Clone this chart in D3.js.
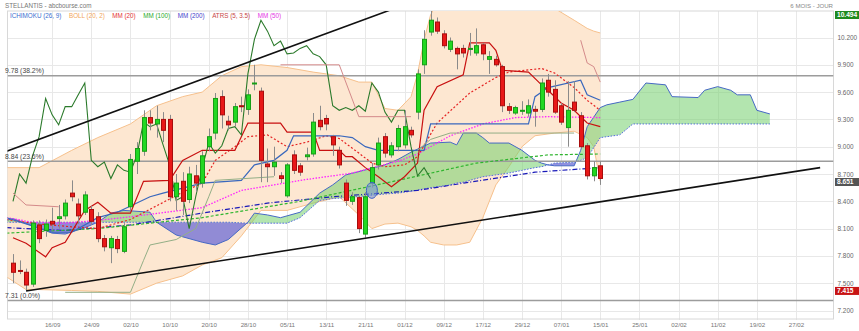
<!DOCTYPE html>
<html>
<head>
<meta charset="utf-8">
<script src="https://cdn.jsdelivr.net/npm/d3@7/dist/d3.min.js"></script>
<style>
    body { margin: 0; background: #fff; }
    svg { display: block; font-family: "Liberation Sans", Arial, sans-serif; }
</style>
</head>
<body>
<svg id="chart" width="859" height="331"></svg>
<script>
(function () {

    // daily candles, index 0 = first visible session
    var openS  = [7.72,7.64,7.62,7.49,8.14,8.08,8.18,8.21,8.24,8.49,8.37,8.28,8.31,8.23,7.99,7.89,7.98,7.85,8.34,8.84,
                  8.95,9.32,9.25,9.30,9.30,8.45,8.62,8.42,8.68,8.60,9.00,9.15,9.55,9.28,9.27,9.45,9.41,9.69,9.61,8.81,
                  8.78,8.68,8.46,8.91,8.79,8.89,8.92,9.29,9.31,9.11,8.96,8.60,8.40,8.44,8.04,8.60,8.80,9.11,8.91,9.00,
                  9.02,9.18,9.38,9.90,10.26,10.37,10.24,10.07,10.08,10.08,10.07,10.03,10.12,9.96,9.96,9.88,9.44,9.37,9.40,9.37,
                  9.41,9.41,9.73,9.63,9.45,9.21,9.49,9.34,9.01,8.68,8.79];
    var highS  = [7.82,7.75,7.66,8.19,8.19,8.20,8.33,8.36,8.42,8.63,8.43,8.51,8.35,8.28,8.03,8.02,8.02,8.16,8.92,9.05,
                  9.40,9.40,9.45,9.38,9.35,8.70,8.72,8.78,8.80,8.95,9.20,9.59,9.62,9.34,9.48,9.55,9.63,9.90,9.65,8.98,
                  9.00,8.72,8.82,8.96,8.82,8.99,9.37,9.45,9.35,9.13,9.00,8.64,8.50,8.46,8.50,8.82,9.10,9.15,9.05,9.24,
                  9.40,9.22,9.85,10.28,10.494,10.42,10.28,10.20,10.10,10.12,10.25,10.30,10.14,10.05,10.00,9.90,9.48,9.45,9.50,9.52,
                  9.45,9.75,9.80,9.73,9.48,9.72,9.72,9.38,9.04,8.84,8.84];
    var lowS   = [7.50,7.60,7.415,7.46,7.94,8.01,8.08,8.10,8.20,8.40,8.15,8.25,8.14,7.95,7.85,7.72,7.83,7.83,8.30,8.70,
                  8.90,9.18,9.10,9.05,8.40,8.30,8.25,8.38,8.50,8.55,8.95,9.08,9.20,9.18,9.22,9.38,9.35,9.62,8.61,8.61,
                  8.68,8.60,8.44,8.70,8.68,8.85,8.89,9.18,9.18,8.90,8.76,8.35,8.36,8.05,8.00,8.55,8.75,8.88,8.88,8.95,
                  8.98,9.10,9.30,9.80,10.22,10.24,10.08,10.04,9.85,9.98,10.00,10.00,9.95,9.80,9.88,9.38,9.36,9.35,9.35,9.33,
                  9.22,9.38,9.55,9.36,9.24,9.00,9.38,8.98,8.64,8.62,8.58];
    var closeS = [7.62,7.63,7.48,8.16,7.99,8.15,8.15,8.23,8.38,8.45,8.24,8.47,8.18,7.99,7.90,7.99,7.88,8.12,8.86,8.98,
                  9.32,9.26,9.30,9.18,8.45,8.60,8.40,8.70,8.60,8.90,9.11,9.53,9.35,9.24,9.44,9.44,9.57,9.70,8.85,8.78,
                  8.83,8.65,8.80,8.74,8.72,8.91,9.27,9.22,9.25,9.02,8.80,8.41,8.45,8.10,8.45,8.77,9.04,8.93,9.01,9.20,
                  9.22,9.13,9.80,10.18,10.39,10.27,10.11,10.16,10.02,10.03,10.08,10.11,10.02,9.99,9.90,9.45,9.40,9.43,9.40,9.45,
                  9.39,9.70,9.60,9.38,9.27,9.40,9.40,9.00,8.68,8.77,8.651];

    var tickIdx    = [6,12,18,24,30,36,42,48,54,60,66,72,78,84,90,96,102,108,114,120];
    var tickLabels = ['16/09','24/09','02/10','10/10','20/10','28/10','05/11','13/11','21/11','01/12',
                      '09/12','17/12','29/12','07/01','15/01','25/01','02/02','11/02','19/02','27/02'];
    var yTicks = [7.2,7.5,7.8,8.1,8.4,8.7,9.0,9.3,9.6,9.9,10.2];

    var fibLevels = [9.78, 8.84, 7.31];
    var fibLabels = ['9.78 (38.2%)', '8.84 (23.6%)', '7.31 (0.0%)'];

    // bollinger (20, 2)
    var bollIdx = [-1,2,4,9,13,18,22,26,29,32,35,38,42,46,50,53,55,57,59,61,62,63,64,66,68,70,72,74,76,78,80,83,86,88,89,90];
    var bollUp  = [8.77,8.77,8.77,8.96,9.10,9.25,9.45,9.55,9.60,9.78,9.88,9.90,9.87,9.82,9.78,9.71,9.71,9.42,9.40,9.55,
                   9.80,10.17,10.45,10.70,10.80,10.85,10.85,10.85,10.85,10.80,10.75,10.52,10.39,10.30,10.27,10.25];
    var bollLo  = [7.57,7.43,7.43,7.42,7.41,7.38,7.50,7.58,7.70,7.78,8.02,8.30,8.30,8.38,8.45,8.25,8.10,8.15,8.16,8.12,
                   8.08,8.02,7.95,7.92,7.92,7.95,8.22,8.58,8.78,9.00,9.12,9.15,9.17,9.10,9.00,8.62];

    // moving averages [index, value]
    var mm20 = [[-1,8.20],[4,8.15],[9,8.12],[13,8.10],[18,8.20],[22,8.35],[26,8.50],[29,8.60],[31,8.85],[34,9.00],
                [36,9.11],[39,9.13],[42,9.00],[45,9.05],[48,9.12],[50,9.09],[53,8.93],[55,8.82],[57,8.78],[60,8.80],
                [62,8.89],[65,9.26],[70,9.59],[74,9.76],[76,9.82],[81,9.86],[83,9.81],[86,9.65],[88,9.51],[90,9.40]];
    var mm50 = [[-1,8.22],[3,8.17],[8,8.16],[13,8.19],[18,8.23],[29,8.33],[35,8.52],[44,8.63],[52,8.71],[59,8.84],
                [62,8.92],[64,9.00],[67,9.12],[72,9.25],[77,9.32],[82,9.33],[90,9.32]];
    var mm100 = [[-1,8.05],[13,8.10],[29,8.22],[44,8.40],[59,8.63],[71,8.82],[82,8.91],[90,8.92]];
    var mm200 = [[-1,8.11],[8,8.08],[18,8.14],[29,8.27],[39,8.38],[49,8.45],[62,8.52],[70,8.61],[80,8.72],[90,8.77]];

    // ichimoku (26, 9)
    var tenkan = [[0,8.00],[2,7.94],[5,7.79],[6,7.89],[8,7.95],[11,8.30],[13,8.39],[15,8.27],[18,8.27],[20,8.62],
                  [24,8.63],[26,8.85],[29,8.96],[34,8.96],[36,9.26],[41,9.26],[42,9.16],[46,9.16],[47,8.96],[50,8.96],
                  [51,8.89],[52,8.89],[54,8.77],[56,8.67],[58,8.56],[60,8.67],[62,8.82],[63,9.40],[65,9.66],[69,9.79],
                  [70,10.14],[73,10.14],[74,10.06],[75,9.84],[79,9.82],[81,9.68],[82,9.62],[84,9.48],[86,9.40],[88,9.26],[90,9.22]];
    var kijun = [[-1,8.22],[6,8.06],[9,8.06],[13,8.22],[16,8.28],[21,8.45],[23,8.49],[29,8.60],[35,8.63],[37,8.80],
                 [40,8.85],[42,8.96],[43,9.12],[50,9.12],[52,9.10],[54,9.00],[56,8.96],[63,8.96],[64,9.25],[79,9.25],
                 [80,9.55],[82,9.65],[87,9.73],[88,9.57],[90,9.51]];
    var cloudIdx = [-1,0,3,6,8,11,13,15,17,21,22,25,29,31,33,36,37,39,41,42,44,47,49,51,57,59,61,64,67,68,69,71,72,73,
                    76,78,80,81,82,83,86,87,88,90,91,93,95,97,100,101,105,106,108,110,111,113,114,116];
    var spanA = [8.19,8.21,8.13,8.05,8.04,8.11,8.17,8.27,8.30,8.28,8.17,8.03,7.95,7.92,7.98,8.17,8.27,8.25,8.22,8.24,
                 8.28,8.49,8.58,8.69,8.80,8.86,8.94,9.04,9.05,9.02,9.15,9.15,9.10,9.04,9.04,8.96,8.85,8.82,8.80,8.79,
                 8.79,8.96,9.22,9.43,9.46,9.49,9.52,9.70,9.68,9.55,9.54,9.62,9.66,9.62,9.57,9.57,9.40,9.36];
    var spanB = [8.17,8.17,8.17,8.17,8.17,8.17,8.17,8.17,8.17,8.17,8.17,8.17,8.17,8.17,8.17,8.16,8.16,8.16,8.16,8.16,
                 8.22,8.41,8.43,8.44,8.48,8.49,8.51,8.55,8.58,8.60,8.61,8.65,8.67,8.68,8.71,8.74,8.77,8.78,8.80,8.82,
                 8.83,8.85,8.88,9.10,9.11,9.13,9.25,9.25,9.25,9.25,9.25,9.25,9.25,9.25,9.25,9.25,9.25,9.25];

    // ATR stop (5, 3.5): segments above price and below price
    var atrsAbove = [[[0,8.49],[2,8.36],[7,8.34]],
                     [[41,9.90],[50,9.90],[53,9.33],[61,9.33]],
                     [[87,10.17],[88,9.92],[89,9.88],[90,9.71]]];
    var atrsBelow = [[[8,7.40],[18,7.40],[20,7.75],[21,7.92],[25,7.98],[28,8.10],[30,8.45],[31,8.63],[40,8.67]],
                     [[62,8.96],[64,9.08],[67,9.15],[86,9.15]]];

    var trendUp = [[-1,8.95],[60,10.56]];
    var trendLo = [[2,7.415],[123.7,8.77]];
    var signalPt = [55, 8.52];
    var priceTags = [10.494, 8.651, 7.415];

    var legendNames  = ['ICHIMOKU (26, 9)','BOLL (20, 2)','MM (20)','MM (100)','MM (200)','ATRS (5, 3.5)','MM (50)'];
    var legendColors = ['#3b6fd0','#f2a55a','#e53333','#2aaa2a','#4444cc','#c84848','#e433e4'];
    var tagColors = ['#1f8a1f','#555555','#c81414'];

    var L = 7.5, R = 833.5, T = 11, B = 319;
    var svg = d3.select('#chart');
    var defs = svg.append('defs');

    var x = d3.scaleLinear().domain([0, 120]).range([13, 796]);
    var y = d3.scaleLinear().domain([7.2, 10.2]).range([310.5, 37.5]);

    var line = d3.line()
        .x(function (d) { return x(d[0]); })
        .y(function (d) { return y(d[1]); });

    svg.append('rect').attr('width', 859).attr('height', 331).attr('fill', '#fff');

    defs.append('clipPath').attr('id', 'plotClip')
        .append('rect').attr('x', L).attr('y', T).attr('width', R - L).attr('height', B - T);

    // grid
    var grid = svg.append('g').attr('stroke', '#e8e8e8').attr('stroke-width', 1);
    grid.selectAll('line.h').data(yTicks).join('line').attr('class', 'h')
        .attr('x1', L).attr('x2', R)
        .attr('y1', function (d) { return Math.round(y(d)) + 0.5; })
        .attr('y2', function (d) { return Math.round(y(d)) + 0.5; });
    grid.selectAll('line.v').data(tickIdx).join('line').attr('class', 'v')
        .attr('y1', T).attr('y2', B + 1)
        .attr('x1', function (d) { return Math.round(x(d)) + 0.5; })
        .attr('x2', function (d) { return Math.round(x(d)) + 0.5; });
    svg.append('rect').attr('x', L).attr('y', T).attr('width', R - L).attr('height', B - T)
        .attr('fill', 'none').attr('stroke', '#d8d8d8');

    var plot = svg.append('g').attr('clip-path', 'url(#plotClip)');

    function drawLine(data, color, width, dash) {
        var p = plot.append('path').attr('d', line(data))
            .attr('fill', 'none').attr('stroke', color).attr('stroke-width', width);
        if (dash) {
            p.attr('stroke-dasharray', dash);
        }
        return p;
    }

    // bollinger band
    var bollRows = bollIdx.map(function (d, k) { return { i: d, up: bollUp[k], lo: bollLo[k] }; });
    plot.append('path')
        .attr('d', d3.area()
            .x(function (d) { return x(d.i); })
            .y0(function (d) { return y(d.lo); })
            .y1(function (d) { return y(d.up); })(bollRows))
        .attr('fill', '#fde7d1');
    drawLine(bollRows.map(function (d) { return [d.i, d.up]; }), '#f6c08c', 1);
    drawLine(bollRows.map(function (d) { return [d.i, d.lo]; }), '#f6c08c', 1);

    // ichimoku cloud, green where span A is above span B, purple below
    var cloud = cloudIdx.map(function (d, k) { return { i: d, a: spanA[k], b: spanB[k] }; });
    defs.append('clipPath').attr('id', 'cloudAbove').append('path')
        .attr('d', d3.area().x(function (d) { return x(d.i); }).y0(0)
            .y1(function (d) { return y(d.b); })(cloud));
    defs.append('clipPath').attr('id', 'cloudBelow').append('path')
        .attr('d', d3.area().x(function (d) { return x(d.i); })
            .y0(function (d) { return y(d.b); }).y1(331)(cloud));
    var between = d3.area()
        .x(function (d) { return x(d.i); })
        .y0(function (d) { return y(d.b); })
        .y1(function (d) { return y(d.a); });
    plot.append('g').attr('clip-path', 'url(#cloudAbove)').append('path')
        .attr('d', between(cloud)).attr('fill', '#74d06e').attr('fill-opacity', 0.55);
    plot.append('g').attr('clip-path', 'url(#cloudBelow)').append('path')
        .attr('d', between(cloud)).attr('fill', '#6c6cd6').attr('fill-opacity', 0.75);
    drawLine(cloud.map(function (d) { return [d.i, d.a]; }), '#4668c4', 1);
    drawLine(cloud.map(function (d) { return [d.i, d.b]; }), '#5272d6', 1, '1.5,1.5');

    // fibonacci levels
    plot.selectAll('line.fib').data(fibLevels).join('line').attr('class', 'fib')
        .attr('x1', L).attr('x2', R)
        .attr('y1', function (d) { return y(d); }).attr('y2', function (d) { return y(d); })
        .attr('stroke', '#9c9c9c').attr('stroke-width', 1.5);

    // moving averages
    drawLine(mm200, '#1a1ab8', 1.2, '5,2,1,2');
    drawLine(mm100, '#2fb52f', 1.2, '3,2');
    drawLine(mm50, '#ff22ff', 1.3, '1.5,1.5');
    drawLine(mm20, '#e52222', 1.2, '2,2');

    // ichimoku lines
    drawLine(kijun, '#3a68bd', 1.2);
    drawLine(tenkan, '#c81010', 1.2);
    var chikou = closeS.slice(26).map(function (c, k) { return [k, c]; });
    drawLine(chikou, '#2b7a2b', 1.1);

    // ATR stop
    atrsAbove.forEach(function (seg) { drawLine(seg, '#d48a8a', 1); });
    atrsBelow.forEach(function (seg) { drawLine(seg, '#93ae86', 1); });

    // candles
    var bars = d3.range(closeS.length);
    var candles = plot.append('g');
    candles.selectAll('line').data(bars).join('line')
        .attr('x1', function (i) { return Math.round(x(i)) + 0.5; })
        .attr('x2', function (i) { return Math.round(x(i)) + 0.5; })
        .attr('y1', function (i) { return y(highS[i]); })
        .attr('y2', function (i) { return y(lowS[i]); })
        .attr('stroke', '#8a8a8a').attr('stroke-width', 1);
    candles.selectAll('rect').data(bars).join('rect')
        .attr('x', function (i) { return Math.round(x(i)) - 1.5; })
        .attr('width', 4)
        .attr('y', function (i) { return y(Math.max(openS[i], closeS[i])); })
        .attr('height', function (i) { return Math.max(1, Math.abs(y(openS[i]) - y(closeS[i]))); })
        .attr('fill', function (i) { return closeS[i] >= openS[i] ? '#22d822' : '#e81818'; })
        .attr('stroke', function (i) { return closeS[i] >= openS[i] ? '#169d16' : '#a80c0c'; })
        .attr('stroke-width', 1);

    // signal marker
    plot.append('ellipse')
        .attr('cx', x(signalPt[0])).attr('cy', y(signalPt[1]))
        .attr('rx', 5.5).attr('ry', 8)
        .attr('fill', 'rgba(120,150,210,0.6)').attr('stroke', '#3f62c8');

    // trend lines
    drawLine(trendUp, '#111', 1.6);
    drawLine(trendLo, '#111', 1.6);

    // fibonacci labels
    svg.selectAll('text.fib').data(fibLabels).join('text').attr('class', 'fib')
        .attr('x', 5).attr('y', function (d, k) { return y(fibLevels[k]) - 2.5; })
        .attr('font-size', 6.8).attr('fill', '#444').text(function (d) { return d; });

    // axes
    var yAxis = d3.axisRight(y).tickValues(yTicks).tickFormat(d3.format('.3f')).tickSize(0).tickPadding(4);
    var gy = svg.append('g').attr('transform', 'translate(' + R + ',0)').call(yAxis);
    gy.select('.domain').remove();
    gy.selectAll('text').attr('font-size', 6.4).attr('fill', '#666').attr('font-family', null);

    var xAxis = d3.axisBottom(x).tickValues(tickIdx)
        .tickFormat(function (d, k) { return tickLabels[k]; }).tickSize(0).tickPadding(4);
    var gx = svg.append('g').attr('transform', 'translate(0,' + B + ')').call(xAxis);
    gx.select('.domain').remove();
    gx.selectAll('text').attr('font-size', 6.2).attr('fill', '#777').attr('font-family', null);

    // price tags on the right, pushed clear of the nearest axis label
    priceTags.forEach(function (v, k) {
        var top = Math.max(T, y(v) - 4);
        yTicks.forEach(function (t) {
            var ty = y(t);
            if (Math.abs(ty - (top + 4)) < 7.5) {
                top = ty < top + 4 ? ty + 4 : ty - 12;
            }
        });
        svg.append('rect').attr('x', 835).attr('y', top).attr('width', 24).attr('height', 8)
            .attr('fill', tagColors[k]);
        svg.append('text').attr('x', 837).attr('y', top + 6.4)
            .attr('font-size', 6.6).attr('font-weight', 'bold').attr('fill', '#fff')
            .text(d3.format('.3f')(v));
    });

    // header and legend
    svg.append('text').attr('x', 5).attr('y', 8).attr('font-size', 6.3).attr('fill', '#777')
        .text('STELLANTIS - abcbourse.com');
    svg.append('text').attr('x', 833).attr('y', 8).attr('text-anchor', 'end')
        .attr('font-size', 6.1).attr('fill', '#888').text('6 MOIS - JOUR');

    var lx = 10;
    legendNames.forEach(function (name, k) {
        var t = svg.append('text').attr('x', lx).attr('y', 17.5)
            .attr('font-size', 6.3).attr('fill', legendColors[k]).text(name);
        lx += t.node().getComputedTextLength() + 7.5;
    });

})();
</script>
</body>
</html>
